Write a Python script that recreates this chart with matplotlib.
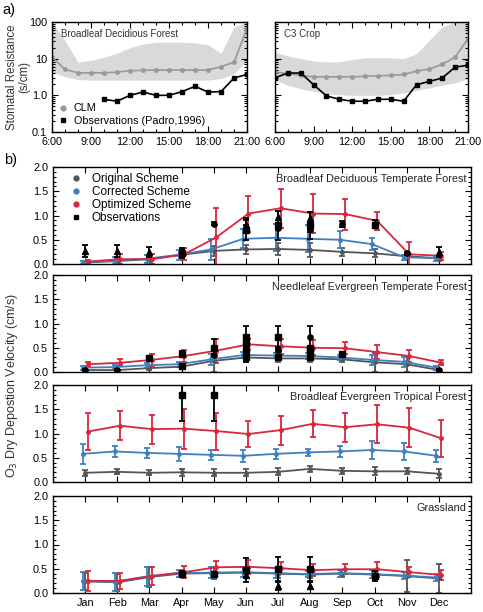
import numpy as np
import matplotlib
matplotlib.use("Agg")
import matplotlib.pyplot as plt
from matplotlib.ticker import MultipleLocator, NullFormatter

# ── Data: (a) stomatal resistance, hourly 6:00..21:00 ─────────────────────────
HOURS = list(range(6, 22))

bdf_clm     = [11, 5.1, 4.1, 4.1, 4.1, 4.3, 4.7, 4.8, 4.9, 4.9, 4.9, 4.9, 4.9, 6.0, 8.1, 65]
bdf_clm_hi  = [100, 31, 8, 9, 11, 14, 20, 25, 28, 28, 28, 27, 24, 14, 73, 100]
bdf_clm_lo  = [4.3, 3.2, 2.7, 2.6, 2.6, 2.6, 2.6, 2.6, 2.6, 2.6, 2.6, 2.6, 2.6, 2.85, 3.9, 9]
bdf_obs_hr  = [10, 11, 12, 13, 14, 15, 16, 17, 18, 19, 20, 21]
bdf_obs     = [0.78, 0.69, 1.0, 1.23, 1.0, 1.0, 1.26, 1.76, 1.23, 1.26, 2.97, 3.7]

c3_clm      = [4.3, 3.9, 3.5, 3.2, 3.2, 3.2, 3.2, 3.3, 3.4, 3.5, 3.7, 4.6, 5.2, 7.0, 11, 35]
c3_clm_hi   = [15, 12, 10, 8.6, 8.1, 8.3, 9.4, 10.6, 10.6, 10.6, 10, 13.7, 32, 73, 100, 100]
c3_clm_lo   = [2.6, 1.9, 1.5, 1.3, 1.1, 1.04, 1.0, 1.0, 1.0, 1.04, 1.16, 1.37, 1.6, 1.9, 2.2, 2.85]
c3_obs      = [3.0, 4.06, 4.06, 1.95, 0.96, 0.78, 0.69, 0.69, 0.78, 0.78, 0.69, 1.95, 2.4, 2.97, 5.9, 6.6]

# ── Data: (b) monthly O3 dry deposition velocity (cm/s) ──────────────────────
MONTHS = ["Jan", "Feb", "Mar", "Apr", "May", "Jun",
          "Jul", "Aug", "Sep", "Oct", "Nov", "Dec"]

# Broadleaf Deciduous Temperate Forest
bdt_orig     = [0.03, 0.06, 0.10, 0.19, 0.27, 0.30, 0.31, 0.29, 0.25, 0.22, 0.16, 0.12]
bdt_orig_err = [0.03, 0.04, 0.05, 0.06, 0.10, 0.10, 0.12, 0.14, 0.08, 0.08, 0.05, 0.05]
bdt_corr     = [0.03, 0.07, 0.11, 0.19, 0.30, 0.52, 0.54, 0.52, 0.50, 0.41, 0.14, 0.12]
bdt_corr_err = [0.03, 0.08, 0.08, 0.10, 0.22, 0.20, 0.28, 0.28, 0.18, 0.12, 0.05, 0.05]
bdt_opt      = [0.05, 0.10, 0.10, 0.20, 0.55, 1.04, 1.15, 1.04, 1.03, 0.89, 0.20, 0.17]
bdt_opt_err  = [0.03, 0.10, 0.10, 0.12, 0.60, 0.37, 0.40, 0.41, 0.32, 0.18, 0.25, 0.08]
bdt_obs_m    = [1, 2, 3, 4, 4, 5, 6, 6, 6, 7, 7, 7, 8, 8, 8, 9, 10, 10, 11, 12]
bdt_obs      = [0.27, 0.27, 0.25, 0.23, 0.25, 0.83, 0.80, 0.70, 0.75, 0.97, 0.80, 0.75,
                0.95, 0.80, 0.72, 0.82, 0.82, 0.80, 0.22, 0.25]
bdt_obs_err  = [0.12, 0.12, 0.10, 0.10, 0.05, 0.03, 0.15, 0.20, 0.05, 0.12, 0.30, 0.05,
                0.12, 0.28, 0.05, 0.06, 0.08, 0.04, 0.03, 0.10]
bdt_obs_mk   = ["^", "^", "^", "s", "o", "o", "^", "s", "o", "^", "s", "o",
                "^", "s", "o", "o", "o", "s", "o", "^"]

# Needleleaf Evergreen Temperate Forest
net_orig     = [0.04, 0.04, 0.08, 0.11, 0.23, 0.30, 0.28, 0.28, 0.26, 0.20, 0.16, 0.04]
net_orig_err = [0.03, 0.03, 0.04, 0.05, 0.23, 0.10, 0.08, 0.08, 0.06, 0.20, 0.16, 0.03]
net_corr     = [0.09, 0.10, 0.14, 0.16, 0.26, 0.35, 0.34, 0.33, 0.30, 0.25, 0.21, 0.09]
net_corr_err = [0.04, 0.04, 0.05, 0.05, 0.12, 0.06, 0.06, 0.06, 0.05, 0.10, 0.10, 0.04]
net_opt      = [0.16, 0.19, 0.25, 0.33, 0.44, 0.57, 0.53, 0.50, 0.49, 0.41, 0.33, 0.19]
net_opt_err  = [0.05, 0.07, 0.12, 0.12, 0.25, 0.12, 0.15, 0.15, 0.12, 0.15, 0.12, 0.05]
net_obs_m    = [1, 2, 3, 4, 4, 5, 5, 6, 6, 6, 6, 6, 7, 7, 7, 8, 8, 8, 8, 9, 12]
net_obs      = [0.05, 0.05, 0.28, 0.38, 0.13, 0.50, 0.35, 0.72, 0.60, 0.55, 0.45, 0.30,
                0.73, 0.45, 0.30, 0.73, 0.50, 0.45, 0.30, 0.38, 0.05]
net_obs_err  = [0.02, 0.02, 0.03, 0.05, 0.02, 0.18, 0.03, 0.23, 0.03, 0.03, 0.03, 0.10,
                0.22, 0.03, 0.05, 0.22, 0.03, 0.03, 0.05, 0.03, 0.02]
net_obs_mk   = ["o", "o", "s", "s", "s", "s", "o", "s", "s", "o", "s", "s",
                "s", "o", "s", "o", "s", "s", "s", "s", "o"]

# Broadleaf Evergreen Tropical Forest
bet_orig     = [0.19, 0.21, 0.19, 0.20, 0.19, 0.19, 0.21, 0.27, 0.23, 0.22, 0.22, 0.17]
bet_orig_err = [0.06, 0.05, 0.05, 0.07, 0.07, 0.07, 0.07, 0.06, 0.06, 0.08, 0.06, 0.09]
bet_corr     = [0.58, 0.63, 0.60, 0.58, 0.56, 0.54, 0.58, 0.61, 0.63, 0.66, 0.63, 0.54]
bet_corr_err = [0.21, 0.11, 0.10, 0.15, 0.10, 0.13, 0.10, 0.07, 0.12, 0.18, 0.17, 0.12]
bet_opt      = [1.04, 1.16, 1.09, 1.10, 1.05, 0.99, 1.07, 1.20, 1.13, 1.19, 1.12, 0.90]
bet_opt_err  = [0.39, 0.30, 0.30, 0.41, 0.38, 0.27, 0.30, 0.28, 0.30, 0.39, 0.40, 0.38]
bet_obs_m    = [4, 5]
bet_obs      = [1.80, 1.80]
bet_obs_err  = [0.55, 0.55]
bet_obs_mk   = ["s", "s"]

# Grassland
gra_orig     = [0.24, 0.22, 0.33, 0.40, 0.41, 0.42, 0.40, 0.38, 0.40, 0.38, 0.35, 0.30]
gra_orig_err = [0.18, 0.18, 0.20, 0.07, 0.12, 0.10, 0.10, 0.07, 0.07, 0.08, 0.33, 0.30]
gra_corr     = [0.25, 0.23, 0.34, 0.41, 0.42, 0.43, 0.41, 0.39, 0.41, 0.39, 0.36, 0.32]
gra_corr_err = [0.18, 0.18, 0.20, 0.07, 0.12, 0.10, 0.10, 0.07, 0.07, 0.08, 0.07, 0.07]
gra_opt      = [0.25, 0.25, 0.35, 0.43, 0.53, 0.54, 0.51, 0.47, 0.49, 0.49, 0.43, 0.37]
gra_opt_err  = [0.20, 0.17, 0.18, 0.12, 0.12, 0.15, 0.12, 0.12, 0.10, 0.15, 0.10, 0.10]
gra_obs_m    = [4, 5, 6, 6, 7, 7, 8, 8, 10]
gra_obs      = [0.40, 0.40, 0.47, 0.38, 0.50, 0.15, 0.50, 0.15, 0.35]
gra_obs_err  = [0.05, 0.04, 0.25, 0.05, 0.25, 0.08, 0.25, 0.07, 0.10]
gra_obs_mk   = ["s", "s", "s", "^", "s", "^", "s", "^", "s"]

# ── Style ─────────────────────────────────────────────────────────────────────
W, H   = 483, 612
C_ORIG = "#555555"
C_CORR = "#3f7fbf"
C_OPT  = "#d7263d"
C_BAND = "#d9d9d9"
FS     = 7.8

plt.rcParams["font.family"] = ["Liberation Sans", "DejaVu Sans"]
plt.rcParams["font.size"] = FS


def px_axes(fig, x0, y0, x1, y1):
    return fig.add_axes([x0 / W, 1 - y1 / H, (x1 - x0) / W, (y1 - y0) / H])


def style_ticks(ax):
    ax.tick_params(which="both", direction="in", top=True, right=True,
                   width=0.8, labelsize=FS)
    ax.tick_params(which="major", length=4)
    ax.tick_params(which="minor", length=2)
    for s in ax.spines.values():
        s.set_linewidth(1.0)


# ── Panel (a) ─────────────────────────────────────────────────────────────────
def resistance_panel(ax, clm, lo, hi, obs_h, obs, title, show_y):
    ax.fill_between(HOURS, lo, hi, color=C_BAND, lw=0)
    ax.plot(HOURS, clm, color="#999999", lw=1.2, marker="o", ms=2.5)
    ax.plot(obs_h, obs, color="black", lw=1.2, marker="s", ms=3)
    ax.set_yscale("log")
    ax.set_ylim(0.1, 100)
    ax.set_xlim(6, 21)
    ax.set_xticks([6, 9, 12, 15, 18, 21])
    ax.set_xticklabels(["6:00", "9:00", "12:00", "15:00", "18:00", "21:00"])
    ax.xaxis.set_minor_locator(MultipleLocator(1))
    ax.set_yticks([0.1, 1, 10, 100])
    ax.yaxis.set_minor_formatter(NullFormatter())
    if show_y:
        ax.set_yticklabels(["0.1", "1.0", "10", "100"])
    else:
        ax.set_yticklabels([])
    ax.text(0.045, 0.94, title, transform=ax.transAxes, ha="left", va="top", fontsize=7,
            color="#333333")
    style_ticks(ax)


# ── Panel (b) ─────────────────────────────────────────────────────────────────
def deposition_panel(ax, series, obs_m, obs, obs_err, obs_mk, title, last):
    x = np.arange(1, 13)
    for (vals, errs, col, dx) in series:
        ax.errorbar(x + dx, vals, yerr=errs, color=col, lw=1.3, marker="o", ms=2.5,
                    capsize=2.5, elinewidth=1.3, capthick=1.3)
    for m, v, e, mk in zip(obs_m, obs, obs_err, obs_mk):
        ax.errorbar([m], [v], yerr=[e], color="black", marker=mk, ms=3.8, lw=0,
                    capsize=2.5, elinewidth=1.3, capthick=1.3, zorder=5)
    ax.set_xlim(0, 13)
    ax.set_ylim(0, 2.0)
    ax.set_xticks(x)
    ax.set_xticklabels(MONTHS if last else [])
    ax.yaxis.set_minor_locator(MultipleLocator(0.1))
    ax.set_yticks([0, 0.5, 1.0, 1.5, 2.0])
    ax.set_yticklabels(["0.0", "0.5", "1.0", "1.5", "2.0"])
    ax.text(0.99, 0.93, title, transform=ax.transAxes, ha="right", va="top", fontsize=7.8,
            color="#222222")
    style_ticks(ax)


fig = plt.figure(figsize=(W / 100, H / 100), dpi=100)

ax_a1 = px_axes(fig, 52, 22, 247, 132)
ax_a2 = px_axes(fig, 275, 22, 468, 132)
resistance_panel(ax_a1, bdf_clm, bdf_clm_lo, bdf_clm_hi, bdf_obs_hr, bdf_obs,
                 "Broadleaf Decidious Forest", True)
resistance_panel(ax_a2, c3_clm, c3_clm_lo, c3_clm_hi, HOURS, c3_obs, "C3 Crop", False)
h_clm = ax_a1.plot([], [], "o", color="#999999", ms=3.5)[0]
h_obs = ax_a1.plot([], [], "s", color="black", ms=3.5)[0]
ax_a1.legend([h_clm, h_obs], ["CLM", "Observations (Padro,1996)"], loc="lower left",
             frameon=False, fontsize=7.8, handlelength=0.8, handletextpad=0.6,
             borderaxespad=0.2, labelspacing=0.2)

panels = [
    (167, [(bdt_orig, bdt_orig_err, C_ORIG, 0.0), (bdt_corr, bdt_corr_err, C_CORR, -0.08),
           (bdt_opt, bdt_opt_err, C_OPT, 0.08)],
     bdt_obs_m, bdt_obs, bdt_obs_err, bdt_obs_mk, "Broadleaf Deciduous Temperate Forest"),
    (275, [(net_orig, net_orig_err, C_ORIG, 0.0), (net_corr, net_corr_err, C_CORR, -0.08),
           (net_opt, net_opt_err, C_OPT, 0.08)],
     net_obs_m, net_obs, net_obs_err, net_obs_mk, "Needleleaf Evergreen Temperate Forest"),
    (385, [(bet_orig, bet_orig_err, C_ORIG, 0.0), (bet_corr, bet_corr_err, C_CORR, -0.08),
           (bet_opt, bet_opt_err, C_OPT, 0.08)],
     bet_obs_m, bet_obs, bet_obs_err, bet_obs_mk, "Broadleaf Evergreen Tropical Forest"),
    (496, [(gra_orig, gra_orig_err, C_ORIG, 0.0), (gra_corr, gra_corr_err, C_CORR, -0.08),
           (gra_opt, gra_opt_err, C_OPT, 0.08)],
     gra_obs_m, gra_obs, gra_obs_err, gra_obs_mk, "Grassland"),
]
axes_b = []
for i, (top, series, om, ov, oe, mk, title) in enumerate(panels):
    ax = px_axes(fig, 53, top, 471, top + 97)
    deposition_panel(ax, series, om, ov, oe, mk, title, i == len(panels) - 1)
    axes_b.append(ax)

# legend in first (b) panel
leg_items = [("Original Scheme", "o", C_ORIG), ("Corrected Scheme", "o", C_CORR),
             ("Optimized Scheme", "o", C_OPT), ("Observations", "s", "black")]
handles = [axes_b[0].plot([], [], mk, color=c, ms=3.5)[0] for _, mk, c in leg_items]
axes_b[0].legend(handles, [t for t, _, _ in leg_items], loc="upper left", frameon=False,
                 fontsize=8.5, handlelength=0.8, handletextpad=0.9, borderaxespad=0.2,
                 labelspacing=0.1, borderpad=0.3, bbox_to_anchor=(0.03, 1.0))

fig.text(18 / W, 1 - 77 / H, "Stomatal Resistance\n(s/cm)", rotation=90, ha="center",
         va="center", fontsize=8.3, color="#333333", linespacing=1.1)
fig.text(12 / W, 1 - 385 / H, "O$_3$ Dry Depostion Velocity (cm/s)", rotation=90,
         ha="center", va="center", fontsize=9, color="#333333")
fig.text(2 / W, 1 - 10 / H, "a)", fontsize=10.5, va="center")
fig.text(4 / W, 1 - 160 / H, "b)", fontsize=10.5, va="center")

fig.savefig("out.png", dpi=100)
